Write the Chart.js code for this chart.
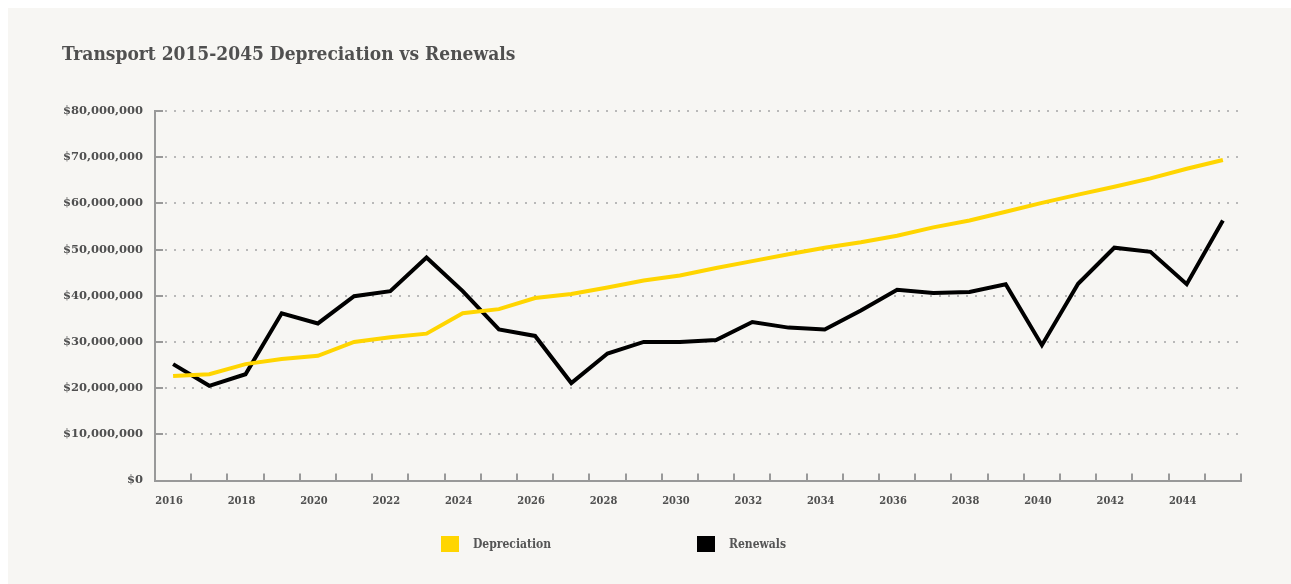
<!DOCTYPE html>
<html>
<head>
<meta charset="utf-8">
<script src="https://cdn.jsdelivr.net/npm/chart.js@4.4.1/dist/chart.umd.min.js"></script>
<style>
  html, body { margin: 0; padding: 0; background: #fff; }
  #panel { position: absolute; left: 8px; top: 8px; width: 1283px; height: 576px; background: #f7f6f3; }
  #wrap { position: absolute; left: 0; top: 0; width: 1291px; height: 584px; }
  #legend { position: absolute; left: 441px; top: 536px; display: flex; font: bold 12px "DejaVu Serif Condensed", "DejaVu Serif", serif; color: #555; }
  #legend .item { display: flex; align-items: center; width: 256px; }
  #legend .swatch { width: 18px; height: 16px; margin-right: 14px; }
</style>
</head>
<body>
<div id="panel"></div>
<div id="wrap"><canvas id="chartTransport" width="1291" height="584"></canvas></div>
<div id="legend"></div>
<script>
// yearly figures, in millions of dollars
const years = ['2016','2017','2018','2019','2020','2021','2022','2023','2024','2025',
  '2026','2027','2028','2029','2030','2031','2032','2033','2034','2035',
  '2036','2037','2038','2039','2040','2041','2042','2043','2044','2045'];
const depreciation = [22.6, 23.0, 25.2, 26.3, 27.0, 30.0, 31.0, 31.8, 36.2, 37.1,
  39.5, 40.4, 41.8, 43.3, 44.4, 46.0, 47.5, 49.0, 50.4, 51.6,
  53.0, 54.8, 56.3, 58.2, 60.1, 61.9, 63.6, 65.4, 67.5, 69.4];
const renewals = [25.2, 20.5, 23.0, 36.2, 34.0, 39.9, 41.0, 48.3, 41.0, 32.7,
  31.3, 21.1, 27.5, 30.0, 30.0, 30.4, 34.3, 33.1, 32.7, 36.8,
  41.3, 40.6, 40.8, 42.5, 29.3, 42.6, 50.4, 49.5, 42.5, 56.3];
const yTicks = [0, 10, 20, 30, 40, 50, 60, 70, 80];
const MILLION = 1000000;

const axisGrey = '#999';
const textGrey = '#505050';

// short inward tick marks on both axes
const innerTicks = {
  id: 'innerTicks',
  afterDraw(chart) {
    const { ctx, chartArea } = chart;
    const xs = chart.scales.x, ys = chart.scales.y;
    const band = xs.getPixelForValue(1) - xs.getPixelForValue(0);
    ctx.save();
    ctx.strokeStyle = axisGrey;
    ctx.lineWidth = 2;
    ctx.beginPath();
    for (let i = 0; i < years.length; i++) {
      const x = Math.round(xs.getPixelForValue(i) + band / 2);
      ctx.moveTo(x, chartArea.bottom);
      ctx.lineTo(x, chartArea.bottom - 7);
    }
    yTicks.forEach(v => {
      const y = Math.round(ys.getPixelForValue(v * MILLION));
      ctx.moveTo(chartArea.left, y);
      ctx.lineTo(chartArea.left + 8, y);
    });
    ctx.stroke();
    ctx.restore();
  }
};

// legend built as html from the datasets
const htmlLegend = {
  id: 'htmlLegend',
  afterUpdate(chart) {
    const box = document.getElementById('legend');
    box.innerHTML = '';
    chart.data.datasets.forEach(ds => {
      const item = document.createElement('div');
      item.className = 'item';
      const sw = document.createElement('span');
      sw.className = 'swatch';
      sw.style.background = ds.borderColor;
      const txt = document.createElement('span');
      txt.textContent = ds.label;
      item.appendChild(sw);
      item.appendChild(txt);
      box.appendChild(item);
    });
  }
};

const ctx = document.getElementById('chartTransport').getContext('2d');
new Chart(ctx, {
  type: 'line',
  data: {
    labels: years,
    datasets: [
      {
        label: 'Depreciation',
        data: depreciation.map(v => v * MILLION),
        borderColor: '#ffd500',
        backgroundColor: '#ffd500',
        borderWidth: 4,
        pointRadius: 0,
        tension: 0
      },
      {
        label: 'Renewals',
        data: renewals.map(v => v * MILLION),
        borderColor: '#000000',
        backgroundColor: '#000000',
        borderWidth: 4,
        pointRadius: 0,
        tension: 0
      }
    ]
  },
  options: {
    responsive: false,
    animation: false,
    layout: { padding: { left: 62, right: 50, top: 43.6, bottom: 63.5 } },
    plugins: {
      legend: { display: false },
      tooltip: { enabled: false },
      title: {
        display: true,
        text: 'Transport 2015-2045 Depreciation vs Renewals',
        align: 'start',
        color: textGrey,
        font: { family: '"DejaVu Serif Condensed", "DejaVu Serif", serif', size: 19, weight: 'bold' },
        padding: { top: 0, bottom: 44.6 }
      }
    },
    scales: {
      x: {
        type: 'category',
        offset: true,
        grid: { display: false, drawTicks: false },
        border: { display: true, color: axisGrey, width: 2 },
        ticks: {
          autoSkip: false,
          maxRotation: 0,
          padding: 14,
          labelOffset: -4,
          color: textGrey,
          font: { family: '"DejaVu Serif Condensed", "DejaVu Serif", serif', size: 11, weight: 'bold' },
          callback: (v, i) => (i % 2 === 0 ? years[i] : '')
        },
        afterFit: s => { s.height = 40; }
      },
      y: {
        min: 0,
        max: 80 * MILLION,
        afterBuildTicks: s => { s.ticks = yTicks.map(v => ({ value: v * MILLION })); },
        grid: {
          drawTicks: false,
          color: c => (c.tick && c.tick.value === 0 ? 'rgba(0,0,0,0)' : '#b9b9b9'),
          lineWidth: 2
        },
        border: { display: true, color: axisGrey, width: 2, dash: [2, 7] },
        ticks: {
          padding: 12,
          color: textGrey,
          font: { family: '"DejaVu Serif", serif', size: 11.5, weight: 'bold' },
          callback: v => '$' + Number(v).toLocaleString('en-US')
        },
        afterFit: s => { s.width = 93; }
      }
    }
  },
  plugins: [innerTicks, htmlLegend]
});
</script>
</body>
</html>
